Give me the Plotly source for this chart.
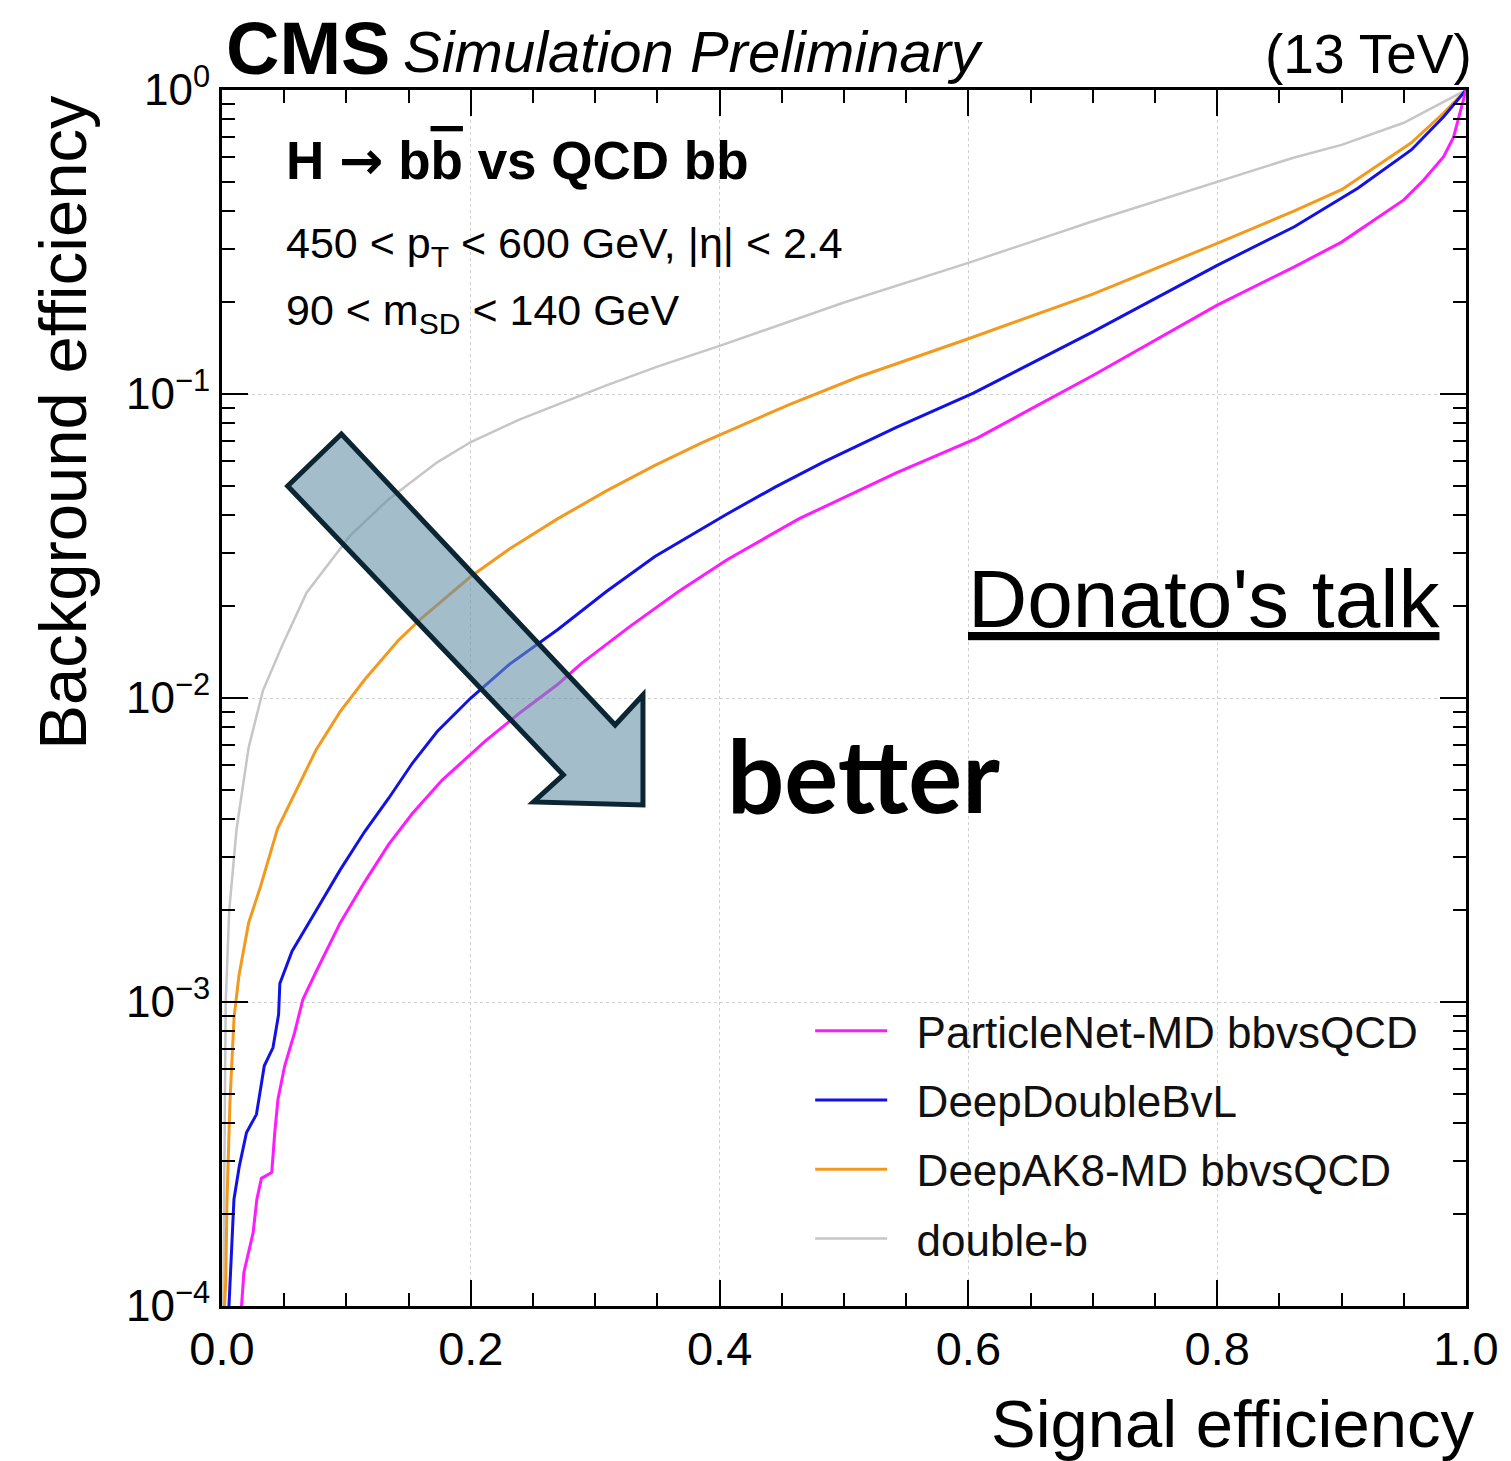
import plotly.graph_objects as go

# ROC curves: signal efficiency (x) vs. background efficiency (y)
double_b_sig = [0.001, 0.002, 0.003, 0.0058, 0.0117, 0.0214, 0.033, 0.0485, 0.068, 0.103,
                0.134, 0.173, 0.200, 0.239, 0.285, 0.309, 0.350, 0.400, 0.500, 0.600,
                0.700, 0.800, 0.862, 0.900, 0.950, 1.000]
double_b_bkg = [1.0e-4, 4.0e-4, 1.0e-3, 2.0e-3, 3.7e-3, 6.87e-3, 1.06e-2, 1.49e-2, 2.22e-2, 3.42e-2,
                4.51e-2, 5.96e-2, 6.95e-2, 8.24e-2, 9.77e-2, 0.1067, 0.123, 0.144, 0.20, 0.27,
                0.37, 0.50, 0.60, 0.66, 0.78, 1.0]

deepak8_sig = [0.002, 0.003, 0.004, 0.0064, 0.0097, 0.0136, 0.0214, 0.031, 0.0447, 0.060,
               0.0757, 0.095, 0.1146, 0.142, 0.161, 0.200, 0.231, 0.270, 0.309, 0.348,
               0.386, 0.456, 0.511, 0.600, 0.700, 0.800, 0.862, 0.900, 0.956, 0.982, 1.000]
deepak8_bkg = [1.0e-4, 1.2e-4, 2.2e-4, 4.7e-4, 8.9e-4, 1.22e-3, 1.82e-3, 2.4e-3, 3.72e-3, 5.01e-3,
               6.76e-3, 9.02e-3, 1.148e-2, 1.55e-2, 1.84e-2, 2.51e-2, 3.09e-2, 3.89e-2, 4.8e-2, 5.82e-2,
               6.92e-2, 9.23e-2, 0.1135, 0.152, 0.213, 0.313, 0.40, 0.47, 0.67, 0.84, 1.0]

ddb_sig = [0.0056, 0.0072, 0.0096, 0.0139, 0.0197, 0.0277, 0.034, 0.041, 0.0455, 0.0465,
           0.0563, 0.0757, 0.095, 0.1146, 0.134, 0.153, 0.173, 0.200, 0.231, 0.270,
           0.309, 0.348, 0.406, 0.445, 0.483, 0.542, 0.604, 0.700, 0.800, 0.862,
           0.913, 0.956, 0.982, 1.000]
ddb_bkg = [1.0e-4, 1.41e-4, 2.24e-4, 2.88e-4, 3.72e-4, 4.27e-4, 6.17e-4, 7.08e-4, 9.1e-4, 1.15e-3,
           1.47e-3, 2.0e-3, 2.72e-3, 3.63e-3, 4.68e-3, 6.1e-3, 7.76e-3, 1.0e-2, 1.29e-2, 1.68e-2,
           2.24e-2, 2.92e-2, 4.03e-2, 4.95e-2, 5.96e-2, 7.76e-2, 0.1007, 0.160, 0.265, 0.355,
           0.475, 0.635, 0.817, 1.0]

pnet_sig = [0.0157, 0.0176, 0.025, 0.028, 0.0317, 0.040, 0.0424, 0.045, 0.0504, 0.0584,
            0.065, 0.0757, 0.095, 0.1146, 0.134, 0.153, 0.177, 0.212, 0.239, 0.270,
            0.289, 0.328, 0.367, 0.406, 0.464, 0.542, 0.607, 0.700, 0.800, 0.862,
            0.900, 0.950, 0.966, 0.982, 0.990, 0.996, 1.000]
pnet_bkg = [1.0e-4, 1.29e-4, 1.74e-4, 2.24e-4, 2.63e-4, 2.75e-4, 3.72e-4, 4.79e-4, 6.17e-4, 7.94e-4,
            1.02e-3, 1.26e-3, 1.82e-3, 2.48e-3, 3.3e-3, 4.17e-3, 5.37e-3, 7.24e-3, 8.91e-3, 1.11e-2,
            1.30e-2, 1.72e-2, 2.24e-2, 2.85e-2, 3.89e-2, 5.5e-2, 7.16e-2, 0.115, 0.196, 0.262,
            0.316, 0.435, 0.506, 0.603, 0.70, 0.86, 1.0]

tagger_names = ["double-b", "DeepAK8-MD bbvsQCD", "DeepDoubleBvL", "ParticleNet-MD bbvsQCD"]

x_tick_vals = [0.0, 0.2, 0.4, 0.6, 0.8, 1.0]
x_tick_text = ["0.0", "0.2", "0.4", "0.6", "0.8", "1.0"]
y_tick_vals = [1e-4, 1e-3, 1e-2, 1e-1, 1.0]
y_tick_text = ["10<sup>\u22124</sup>", "10<sup>\u22123</sup>", "10<sup>\u22122</sup>",
               "10<sup>\u22121</sup>", "10<sup>0</sup>"]

FONT = "Liberation Sans, Arial, Helvetica, sans-serif"
NBSP = "\u00a0"

# drawing order: double-b at the back, ParticleNet on top; legend lists them the other way
curves = [
    (double_b_sig, double_b_bkg, "#c6c6c6", 2.5, 4),
    (deepak8_sig, deepak8_bkg, "#f39a1e", 3, 3),
    (ddb_sig, ddb_bkg, "#1212e6", 3, 2),
    (pnet_sig, pnet_bkg, "#ff1aff", 3, 1),
]

fig = go.Figure()
for name, (xs, ys, color, width, rank) in zip(tagger_names, curves):
    fig.add_trace(go.Scatter(
        x=xs, y=ys, mode="lines", name=NBSP * 2 + name, legendgroup=name,
        legendrank=rank, line=dict(color=color, width=width),
    ))

minor_y = [k * 10.0 ** e for e in range(-4, 0) for k in range(2, 10)]

fig.update_layout(
    width=1511, height=1461,
    margin=dict(l=222, r=39, t=90, b=155),
    paper_bgcolor="white", plot_bgcolor="white",
    font=dict(family=FONT, color="black"),
    showlegend=True,
    legend=dict(
        x=0.4728, y=0.2552, xanchor="left", yanchor="top",
        font=dict(size=44, family=FONT, color="#111111"),
        bgcolor="rgba(0,0,0,0)", traceorder="grouped",
        tracegroupgap=9, itemwidth=72,
    ),
    xaxis=dict(
        range=[0, 1], tickvals=x_tick_vals, ticktext=x_tick_text,
        tickfont=dict(size=47, family=FONT),
        ticks="inside", ticklen=26, tickwidth=2, tickcolor="black",
        showline=True, linewidth=3, linecolor="black", mirror="allticks",
        showgrid=True, gridcolor="#cfcfcf", gridwidth=1, griddash="dot",
        zeroline=False,
        minor=dict(dtick=0.05, ticks="inside", ticklen=13, tickwidth=2,
                   tickcolor="black", showgrid=False),
    ),
    yaxis=dict(
        type="log", range=[-4, 0], tickvals=y_tick_vals, ticktext=y_tick_text,
        tickfont=dict(size=44, family=FONT),
        ticks="inside", ticklen=26, tickwidth=2, tickcolor="black",
        showline=True, linewidth=3, linecolor="black", mirror="allticks",
        showgrid=True, gridcolor="#cfcfcf", gridwidth=1, griddash="dot",
        zeroline=False,
        minor=dict(tickvals=minor_y, ticks="inside", ticklen=13, tickwidth=2,
                   tickcolor="black", showgrid=False),
    ),
)

annotations = [
    dict(text="<b>CMS</b>", x=0.0016, y=1.0341, xanchor="left", yanchor="middle",
         font=dict(size=74, family=FONT)),
    dict(text="<i>Simulation Preliminary</i>", x=0.1440, y=1.0316, xanchor="left",
         yanchor="middle", font=dict(size=58, family=FONT)),
    dict(text="(13 TeV)", x=1.0064, y=1.030, xanchor="right", yanchor="middle",
         font=dict(size=55, family=FONT)),
    dict(text=("<b>H <span style='font-family:DejaVu Sans'>\u2192</span> "
               "b<span style='text-decoration:overline'>b</span> vs QCD bb</b>"),
         x=0.050, y=0.942, xanchor="left", yanchor="middle", font=dict(size=53, family=FONT)),
    dict(text="450 < p<sub>T</sub> < 600 GeV, |\u03b7| < 2.4", x=0.050, y=0.8717,
         xanchor="left", yanchor="middle", font=dict(size=43, family=FONT)),
    dict(text="90 < m<sub>SD</sub> < 140 GeV", x=0.050, y=0.8166,
         xanchor="left", yanchor="middle", font=dict(size=43, family=FONT)),
    dict(text="Background efficiency", x=-0.128, y=0.998, xanchor="center", yanchor="top",
         textangle=-90, font=dict(size=67, family=FONT)),
    dict(text="Signal efficiency", x=1.008, y=-0.0970, xanchor="right", yanchor="middle",
         font=dict(size=67, family=FONT)),
    dict(text="<u>Donato's talk</u>", x=0.9808, y=0.5822, xanchor="right", yanchor="middle",
         font=dict(size=82, family=FONT)),
    dict(text="<b>better</b>", x=0.4040, y=0.4375, xanchor="left", yanchor="middle",
         font=dict(size=101, family="Lato, sans-serif")),
]
for a in annotations:
    a.update(xref="paper", yref="paper", showarrow=False)
fig.update_layout(annotations=annotations)

# "better" direction arrow, drawn over the curves
fig.add_shape(
    type="path", xref="paper", yref="paper", layer="above",
    path=("M 0.0528,0.6743 L 0.0960,0.7171 L 0.3160,0.4778 L 0.3384,0.5025 "
          "L 0.3384,0.4120 L 0.2504,0.4145 L 0.2744,0.4367 Z"),
    fillcolor="rgba(103,145,168,0.6)",
    line=dict(color="#0b2533", width=5),
)

fig.write_html("out.html")
